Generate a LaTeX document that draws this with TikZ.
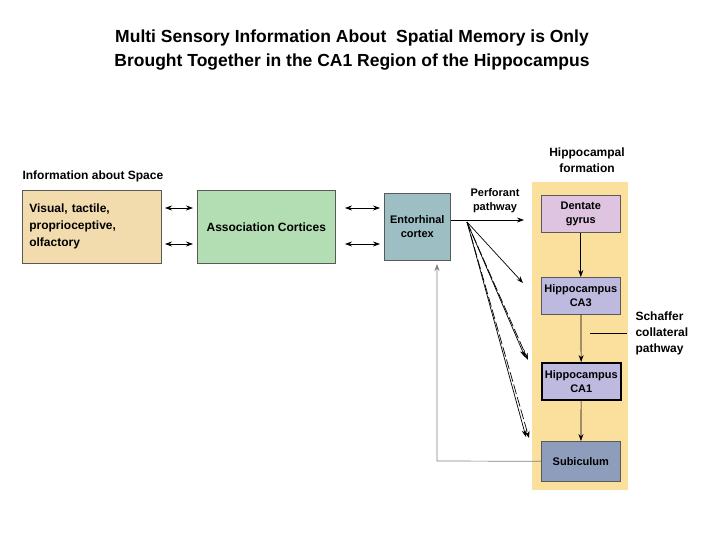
\documentclass[tikz,border=0pt]{standalone}
\usepackage{fontspec}
\setmainfont{Liberation Sans}
\usetikzlibrary{arrows.meta}
\definecolor{tan}{HTML}{F2DCAE}
\definecolor{grn}{HTML}{B3DDB3}
\definecolor{ent}{HTML}{9DBFC4}
\definecolor{yel}{HTML}{FBDF9C}
\definecolor{dg}{HTML}{DEC4E0}
\definecolor{ca}{HTML}{BDB9DF}
\definecolor{sub}{HTML}{8D9DBB}
\begin{document}
\begin{tikzpicture}[x=1pt,y=-1pt,
  box/.style={draw=gray!70!black,line width=0.6pt,font=\bfseries\fontsize{12}{15}\selectfont,align=center,inner sep=0pt},
  sbox/.style={box,font=\bfseries\fontsize{11}{14}\selectfont},
  arr/.style={-{Stealth[length=7pt,width=5pt]},line width=0.7pt},
  darr/.style={{Stealth[length=7pt,width=5pt]}-{Stealth[length=7pt,width=5pt]},line width=0.7pt},
  lab/.style={font=\bfseries\fontsize{12}{16}\selectfont,align=center}]
\useasboundingbox (0,0) rectangle (720,540);
\node[font=\bfseries\fontsize{17.5}{24}\selectfont,align=center] (title) at (352,50) {Multi Sensory Information About\ \ Spatial Memory is Only\\Brought Together in the CA1 Region of the Hippocampus};
\node[lab,anchor=west] (info) at (19,176) {Information about Space};
\node[box,fill=tan,minimum width=139,minimum height=73,anchor=north west,align=left,text width=125] (vis) at (22,190) {Visual, tactile,\\[2pt]proprioceptive,\\[2pt]olfactory};
\node[box,fill=grn,minimum width=138,minimum height=73,anchor=north west] (assoc) at (197,190) {Association Cortices};
\node[sbox,fill=ent,minimum width=66,minimum height=67,anchor=north west] (ent) at (384,193) {Entorhinal\\cortex};
\fill[yel] (532,182) rectangle (628,490);
\node[lab] (hf) at (587,160) {Hippocampal\\formation};
\node[sbox,fill=dg,minimum width=79,minimum height=37,anchor=north west] (dg) at (541,195) {Dentate\\gyrus};
\node[sbox,fill=ca,minimum width=79,minimum height=37,anchor=north west] (ca3) at (541,277) {Hippocampus\\CA3};
\node[sbox,fill=ca,minimum width=79,minimum height=37,anchor=north west,line width=1.5pt,draw=black] (ca1) at (541,362) {Hippocampus\\CA1};
\node[sbox,fill=sub,minimum width=79,minimum height=40,anchor=north west] (sub) at (541,441) {Subiculum};
\draw[darr] (165,208) -- (193,208);
\draw[darr] (165,244) -- (193,244);
\draw[darr] (345,208) -- (380,208);
\draw[darr] (345,244) -- (380,244);
\draw[arr] (ent.east |- 0,220) -- (524,220);
\node[lab,font=\bfseries\fontsize{11}{14}\selectfont] (perf) at (495,201) {Perforant\\pathway};
\coordinate (o) at (467,222);
\draw[arr] (o) -- (523,283);
\draw[arr] (o) -- (525,357);
\draw[arr,dash pattern=on 10pt off 3pt] (o) -- (528,360);
\draw[arr] (o) -- (526,437);
\draw[arr,dash pattern=on 10pt off 3pt] (o) -- (529,438);
\draw[arr] (dg) -- (ca3);
\draw[arr] (ca3) -- (ca1);
\draw[arr] (ca1) -- (sub);
\coordinate (sc) at (590,333);
\draw[line width=0.7pt] (sc) -- (627,333);
\node[lab,anchor=west,align=left] (schaf) at (632,333) {Schaffer\\collateral\\pathway};
\coordinate (ret) at (437,461);
\draw[-{Stealth[length=7pt,width=5pt]},gray,line width=0.7pt] (sub.west) -- (ret) -- (437,264);
\end{tikzpicture}
\end{document}
